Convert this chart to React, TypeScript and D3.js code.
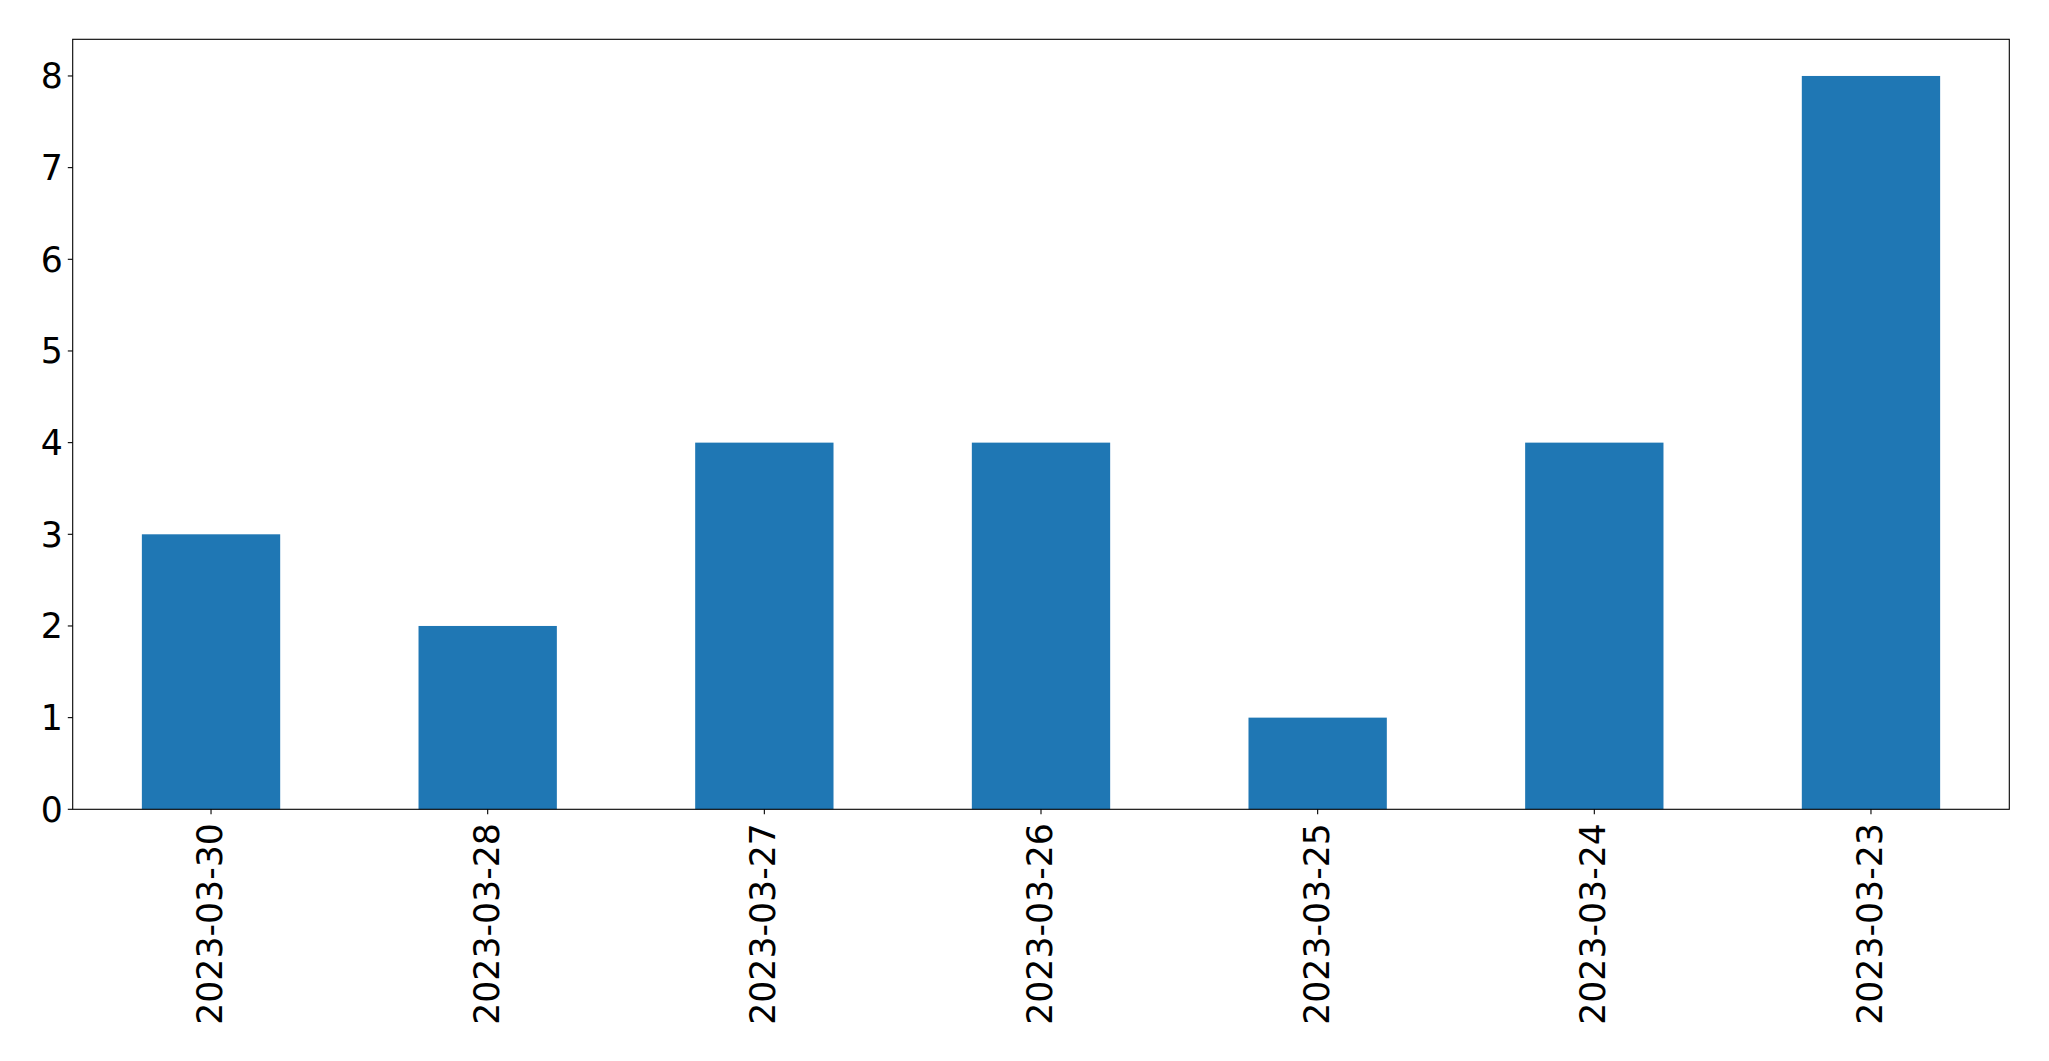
import React from "react";
import * as d3 from "d3";

const categories = ["2023-03-30", "2023-03-28", "2023-03-27", "2023-03-26", "2023-03-25", "2023-03-24", "2023-03-23"];
const values = [3, 2, 4, 4, 1, 4, 8];
const yTicks = [0, 1, 2, 3, 4, 5, 6, 7, 8];

const W = 2049;
const H = 1061;
const M = { left: 72.7, right: 2009.3, top: 39.3, bottom: 809.3 };
const FONT = "DejaVu Sans, sans-serif";
const FS = 34.7;

export default function App() {
  const x = d3.scaleLinear().domain([-0.5, categories.length - 0.5]).range([M.left, M.right]);
  const y = d3.scaleLinear().domain([0, 8.4]).range([M.bottom, M.top]);
  const bw = x(0.25) - x(-0.25);
  return (
    <svg width={W} height={H} style={{ position: "absolute", left: 0, top: 0, background: "#fff" }}>
      <rect x={0} y={0} width={W} height={H} fill="#fff" />
      {values.map((v, i) => (
        <rect key={i} x={x(i) - bw / 2} y={y(v)} width={bw} height={y(0) - y(v)} fill="#1f77b4" />
      ))}
      <rect x={M.left} y={M.top} width={M.right - M.left} height={M.bottom - M.top} fill="none" stroke="#000" strokeWidth={1.1} />
      {yTicks.map((t) => (
        <g key={t}>
          <line x1={M.left - 4.9} x2={M.left} y1={y(t)} y2={y(t)} stroke="#000" strokeWidth={1.1} />
          <text x={M.left - 4.9 - 5} y={y(t)} dy="0.36em" textAnchor="end" fontFamily={FONT} fontSize={FS} fill="#000">{t}</text>
        </g>
      ))}
      {categories.map((c, i) => (
        <g key={c}>
          <line x1={x(i)} x2={x(i)} y1={M.bottom} y2={M.bottom + 4.9} stroke="#000" strokeWidth={1.1} />
          <text transform={`translate(${x(i) - 1.5},${M.bottom + 4.9 + 9}) rotate(-90)`} dy="0.36em" textAnchor="end" fontFamily={FONT} fontSize={FS} fill="#000">{c}</text>
        </g>
      ))}
    </svg>
  );
}
